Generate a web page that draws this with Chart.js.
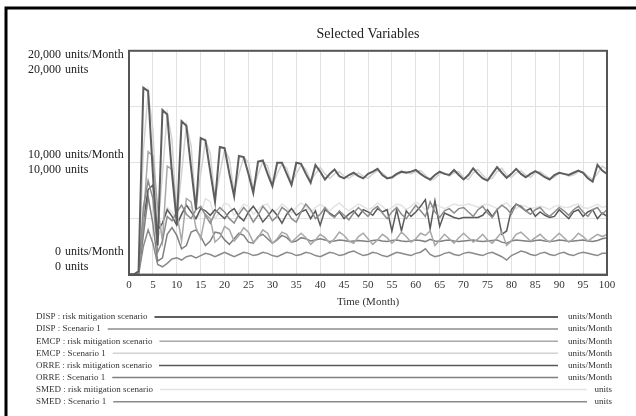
<!DOCTYPE html>
<html>
<head>
<meta charset="utf-8">
<script src="https://cdn.jsdelivr.net/npm/chart.js@4"></script>
<style>
  body { margin: 0; background: #fff; }
  #wrap { width: 636px; height: 416px; position: relative; }
</style>
</head>
<body>
<div id="wrap"><canvas id="graph"></canvas></div>
<script>
// months 0..100
const months = Array.from({ length: 101 }, (_, i) => i);

const yTickValues = [0, 10000, 20000];
const unitNames = ['units/Month', 'units'];

const seriesLabels = [
    'DISP : risk mitigation scenario',
    'DISP : Scenario 1',
    'EMCP : risk mitigation scenario',
    'EMCP : Scenario 1',
    'ORRE : risk mitigation scenario',
    'ORRE : Scenario 1',
    'SMED : risk mitigation scenario',
    'SMED : Scenario 1'
];
const seriesUnits = ['units/Month', 'units/Month', 'units/Month', 'units/Month', 'units/Month', 'units/Month', 'units', 'units'];

const dispRisk = [0, 0, 300, 16700, 16400, 9000, 2600, 14700, 14300, 9000, 4600, 13700, 13300, 9500, 5800, 12200, 12000, 9200, 6500, 11400, 11300,
    9000, 7000, 10600, 10500, 9000, 7300, 10100, 10200, 9000, 7900, 10000, 10000, 9000, 8000, 10000, 9900, 9000, 8200, 9800, 9200,
    8500, 9000, 9400, 8800, 8600, 8900, 9100, 8800, 8600, 9000, 9200, 9450, 8900, 8600, 8700, 9000, 9200, 9100, 9200, 9350,
    9000, 8700, 8500, 8900, 9200, 9000, 8900, 9350, 8900, 8500, 8900, 9500, 9000, 8600, 8400, 9000, 9600, 9100, 8650, 9000,
    9450, 9000, 8700, 9000, 9250, 9000, 8700, 8500, 8900, 9100, 9000, 8900, 9100, 9300, 9100, 8600, 8300, 9800, 9300, 9000];

const dispScen1 = [0, 0, 0, 6000, 8400, 6800, 2000, 3000, 5200, 4800, 5600, 6200, 5400, 5000, 5800, 6100, 5300, 4600, 5500, 6000, 5600,
    5000, 4600, 5400, 6000, 5500, 4700, 5300, 6100, 5600, 4800, 5200, 6000, 5700, 5000, 4700, 5600, 6300, 5800, 5000, 5400,
    6000, 5400, 5100, 5700, 5300, 4900, 5500, 6000, 5600, 5200, 5800, 6100, 5500, 5000, 5600, 6000, 5400, 5000, 5600, 6200,
    5700, 5200, 6500, 5600, 5100, 5700, 5900, 5500, 5900, 6000, 5600, 5200, 5800, 6100, 5500, 5100, 5800, 6200, 5900, 5400,
    6300, 6000, 5700, 5400, 5800, 6000, 5500, 5200, 5600, 6000, 5700, 5300, 5800, 6100, 5600, 5200, 5800, 6000, 5400, 5800];

const emcpRisk = [0, 0, 0, 5000, 11000, 10600, 6000, 3000, 9700, 9400, 5500, 3000, 6800, 6500, 4200, 3200, 5400, 5000, 2900, 3300, 4300,
    4000, 3000, 3500, 4200, 3800, 2900, 3300, 4000, 3700, 2800, 3200, 3800, 3600, 2900, 3300, 3700, 3300, 2700, 3100, 3600,
    3300, 2800, 3200, 3800, 3500, 3000, 2800, 3400, 3700, 3200, 2700, 3100, 3600, 3300, 2800, 3200, 3800, 3400, 2900, 3200,
    3700, 3500, 3900, 2600, 3100, 3600, 3200, 2800, 3300, 3700, 3300, 2900, 3200, 3600, 3100, 2800, 3300, 3800, 2600, 3000,
    3600, 3800, 3400, 3000, 3300, 3600, 3200, 2900, 3300, 3700, 3300, 2900, 3200, 3700, 3400, 3000, 3300, 3600, 3400, 3600];

const emcpScen1 = [0, 0, 0, 11000, 16300, 13000, 3800, 9000, 14400, 12000, 5000, 9000, 13400, 11500, 6000, 9000, 12000, 10800, 6800, 9000, 11200,
    10300, 7300, 9000, 10500, 10000, 7600, 9000, 10100, 9700, 8000, 9000, 9900, 9500, 8200, 9000, 9800, 9400, 8400, 9000, 9600,
    9000, 8600, 9000, 9200, 8800, 8600, 8900, 9100, 8800, 8600, 9000, 9300, 9100, 8700, 8600, 8900, 9100, 9200, 9000, 9200,
    9300, 8900, 8400, 8600, 9000, 9100, 8800, 9100, 9200, 8700, 8500, 9100, 9400, 8900, 8500, 8600, 9200, 9500, 8900, 8700,
    9100, 9300, 8900, 8700, 9100, 9200, 8900, 8600, 8700, 9100, 9000, 8800, 8900, 9200, 9200, 8800, 8500, 9000, 9700, 9400];

const orreRisk = [0, 0, 0, 4800, 7600, 8000, 4000, 4600, 5800, 5200, 4400, 5400, 6200, 5600, 5000, 5900, 5700, 5300, 5800, 5400, 5000,
    5600, 5900, 5200, 4800, 5600, 6100, 5500, 4700, 5200, 5800, 5300, 4600, 5400, 5900, 5300, 5600, 5800, 5000, 5700, 4400,
    5800, 5500, 5200, 5600, 5000, 5400, 5700, 5200, 5800, 5600, 5300, 5900, 5600, 5800, 3900, 5800, 3900, 5700, 5200, 5600,
    6100, 6700, 4100, 6600, 4300, 5500, 5300, 5100, 5000, 5100, 5100, 5100, 5100, 5300, 5800, 5200, 5800, 3600, 3900, 5800,
    6300, 6100, 5700, 5900, 5200, 5600, 5300, 5100, 5200, 5800, 5400, 5000, 5600, 5800, 5200, 5600, 5800, 5000, 5500, 5200];

const orreScen1 = [0, 0, 0, 3500, 7000, 4500, 1200, 1500, 3600, 4200, 3500, 2300, 2600, 3800, 4000, 3400, 2600, 3000, 3800, 3700, 3100,
    2700, 3200, 3700, 3500, 2900, 2800, 3400, 3600, 3200, 2800, 3100, 3500, 3300, 2900, 3000, 3300, 3200, 3000, 3100, 3200,
    3100, 2950, 3000, 3100, 3050, 2950, 3000, 3050, 3000, 2950, 3050, 3100, 3000, 2950, 3050, 3100, 3000, 2950, 3000, 3100,
    3050, 2950, 3150, 3000, 2950, 3050, 3100, 3000, 2950, 3000, 3050, 3100, 3000, 2950, 3000, 3050, 3100, 2900, 2800, 3000,
    3100, 3050, 3000, 2950, 3050, 3100, 3000, 2950, 3000, 3100, 3050, 2950, 3000, 3050, 3100, 3000, 2950, 3050, 3200, 3300];

const smedRisk = [0, 0, 0, 4000, 6500, 5000, 3200, 4500, 6000, 5600, 4800, 5200, 6200, 6000, 5000, 5400, 6800, 6500, 5000, 5600, 6400,
    6200, 5300, 5700, 6300, 6100, 5400, 5800, 6200, 6300, 5600, 5800, 6300, 6000, 5500, 6000, 6400, 6100, 5600, 6000, 6300,
    6000, 5700, 6100, 6400, 6000, 5700, 6000, 6300, 6100, 5800, 6000, 6400, 6100, 5700, 6000, 6300, 6200, 5800, 6100, 6500,
    6200, 5800, 6000, 6300, 6100, 5900, 6100, 6300, 6200, 6200, 6300, 6200, 6000, 6200, 6300, 6100, 5900, 6200, 6400, 6000,
    5900, 6200, 6100, 5900, 6000, 6100, 6000, 5800, 6100, 6200, 6000, 6000, 6200, 6300, 6000, 5900, 6100, 6300, 6000, 6100];

const smedScen1 = [0, 0, 0, 2500, 4000, 2800, 900, 700, 1000, 1400, 1500, 1300, 1600, 1700, 1500, 1700, 1900, 1800, 1600, 1800, 2000,
    1800, 1600, 1800, 2000, 1900, 1700, 1800, 2000, 1900, 1700, 1600, 1800, 2000, 1900, 1700, 1800, 2000, 1900, 1700, 1600,
    1800, 2000, 1900, 1700, 1800, 2000, 2100, 1900, 1700, 1800, 2000, 1900, 1700, 1600, 1800, 2000, 1900, 1800, 1700, 1900,
    2000, 2300, 1800, 1600, 1700, 1900, 2000, 1800, 1700, 1900, 2000, 1900, 1800, 1700, 1900, 2000, 1800, 1600, 1300, 1700,
    1900, 2100, 2000, 1800, 1700, 1900, 2000, 1800, 1700, 1900, 2000, 1800, 1700, 1900, 2000, 1900, 1800, 1700, 1900, 1900];

const seriesValues = [dispRisk, dispScen1, emcpRisk, emcpScen1, orreRisk, orreScen1, smedRisk, smedScen1];
const seriesColors = ['#5e5e5e', '#8c8c8c', '#a8a8a8', '#d2d2d2', '#5a5a5a', '#808080', '#e3e3e3', '#8a8a8a'];
const seriesWidths = [2, 1.5, 1.5, 1.5, 1.5, 1.5, 1.5, 1.5];

const serif = '"Liberation Serif", "DejaVu Serif", serif';

// frame, plot box, y labels and the legend block below the axis
const vensimPlugin = {
    id: 'vensim',
    beforeDraw(chart) {
        const ctx = chart.ctx;
        ctx.save();
        ctx.fillStyle = '#fff';
        ctx.fillRect(0, 0, chart.width, chart.height);
        ctx.strokeStyle = '#000';
        ctx.lineWidth = 3;
        ctx.beginPath();
        ctx.moveTo(6, chart.height);
        ctx.lineTo(6, 8);
        ctx.lineTo(chart.width, 8);
        ctx.stroke();
        ctx.restore();
    },
    afterDraw(chart) {
        const ctx = chart.ctx;
        const area = chart.chartArea;
        const yScale = chart.scales.y;
        ctx.save();

        ctx.strokeStyle = '#555';
        ctx.lineWidth = 2;
        ctx.strokeRect(area.left, area.top, area.right - area.left, area.bottom - area.top);

        // y labels, one line per unit
        ctx.font = '12px ' + serif;
        ctx.fillStyle = '#222';
        ctx.textBaseline = 'middle';
        yTickValues.forEach(v => {
            let y = yScale.getPixelForValue(v) - 8;
            y = Math.max(area.top + 4, Math.min(area.bottom - 23, y));
            unitNames.forEach((u, k) => {
                ctx.textAlign = 'right';
                ctx.fillText(v.toLocaleString('en-US'), 61, y + k * 15);
                ctx.textAlign = 'left';
                ctx.fillText(u, 65, y + k * 15);
            });
        });

        // legend rows
        ctx.font = '9px ' + serif;
        chart.data.datasets.forEach((ds, i) => {
            const y = 317 + i * 12.1;
            ctx.fillStyle = '#333';
            ctx.textAlign = 'left';
            ctx.fillText(ds.label, 36, y);
            const tw = ctx.measureText(ds.label).width;
            const unit = seriesUnits[i];
            const lineEnd = unit === 'units' ? 587 : 558;
            ctx.strokeStyle = ds.borderColor;
            ctx.lineWidth = ds.borderWidth;
            ctx.beginPath();
            ctx.moveTo(36 + tw + 7, y);
            ctx.lineTo(lineEnd, y);
            ctx.stroke();
            ctx.textAlign = 'right';
            ctx.fillText(unit, 612, y);
        });
        ctx.restore();
    }
};

const datasets = seriesValues.map((vals, i) => ({
    label: seriesLabels[i],
    data: months.map((m, j) => ({ x: m, y: vals[j] })),
    borderColor: seriesColors[i],
    borderWidth: seriesWidths[i],
    pointRadius: 0,
    tension: 0,
    fill: false
}));

new Chart(document.getElementById('graph'), {
    type: 'line',
    data: { datasets: datasets },
    plugins: [vensimPlugin],
    options: {
        responsive: true,
        maintainAspectRatio: false,
        animation: false,
        layout: { padding: { left: 129, right: 29, top: 0, bottom: 107 } },
        plugins: {
            legend: { display: false },
            tooltip: { enabled: false },
            title: {
                display: true,
                text: 'Selected Variables',
                color: '#222',
                font: { family: serif, size: 14, weight: 'normal' },
                padding: { top: 26, bottom: 8 }
            }
        },
        scales: {
            x: {
                type: 'linear',
                min: 0,
                max: 100,
                ticks: {
                    stepSize: 5,
                    color: '#333',
                    padding: 4,
                    maxRotation: 0,
                    font: { family: serif, size: 11 }
                },
                grid: { color: '#e2e2e2', drawTicks: false },
                border: { color: '#555', width: 2 },
                title: {
                    display: true,
                    text: 'Time (Month)',
                    color: '#333',
                    font: { family: serif, size: 11 },
                    padding: { top: 0, bottom: 0 }
                }
            },
            y: {
                min: 0,
                max: 20000,
                ticks: { stepSize: 5000, display: false },
                grid: { color: '#e2e2e2', drawTicks: false },
                border: { color: '#555', width: 2 }
            }
        }
    }
});
</script>
</body>
</html>
